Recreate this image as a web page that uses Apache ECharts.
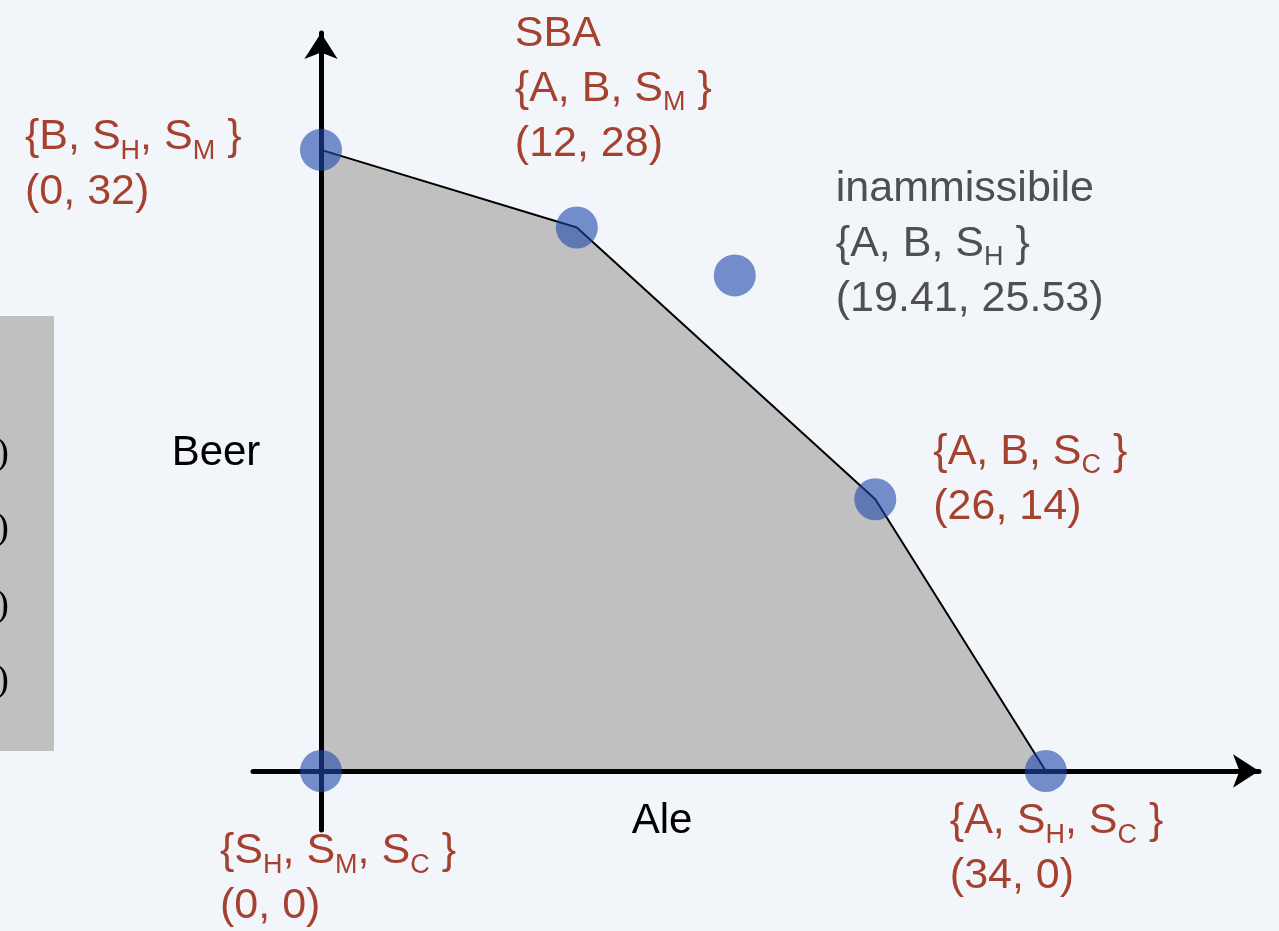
<!DOCTYPE html>
<html>
<head>
<meta charset="utf-8">
<script src="https://cdn.jsdelivr.net/npm/echarts@6/dist/echarts.min.js"></script>
<style>
html,body{margin:0;padding:0;background:#f2f5f9;}
#chart{width:1279px;height:931px;}
</style>
</head>
<body>
<div id="chart"></div>
<script>
// Vertices of the feasible region (Ale, Beer)
const aleValues  = [0, 0, 12, 26, 34];
const beerValues = [0, 32, 28, 14, 0];
// Basis labels for each vertex (rich text, s = subscript)
const vertexBases = [
  '{S{s|H}, S{s|M}, S{s|C} }',
  '{B, S{s|H}, S{s|M} }',
  '{A, B, S{s|M} }',
  '{A, B, S{s|C} }',
  '{A, S{s|H}, S{s|C} }'
];
const vertexTitles = ['', '', 'SBA', '', ''];
const vertexCoordText = ['(0, 0)', '(0, 32)', '(12, 28)', '(26, 14)', '(34, 0)'];
// Infeasible basic solution
const infeasibleAle = 19.41;
const infeasibleBeer = 25.53;
const infeasibleTitle = 'inammissibile';
const infeasibleBasis = '{A, B, S{s|H} }';
const infeasibleCoordText = '(19.41, 25.53)';
// Boundary of the region (vertex indices along the upper frontier)
const frontierOrder = [1, 2, 3, 4];
const axisNames = { x: 'Ale', y: 'Beer' };

const RED = '#a5412f';
const GRAY = '#4f4f4f';
const FONT = "'Liberation Sans', Arial, Helvetica, sans-serif";
const labelOffsets = [[-101, 53], [-296, -40], [-62, -221], [58, -75], [-96, 23]];
const infeasibleOffset = [101, -114];

function mkLabel(text, color, offset) {
  return {
    show: true,
    position: 'inside',
    align: 'left',
    verticalAlign: 'top',
    offset: offset,
    formatter: text,
    color: color,
    opacity: 1,
    fontSize: 43,
    lineHeight: 55,
    fontFamily: FONT,
    rich: {
      s: { fontSize: 27, lineHeight: 27, verticalAlign: 'bottom', color: color, fontFamily: FONT }
    }
  };
}

const vertexData = aleValues.map((a, i) => {
  const lines = [];
  if (vertexTitles[i]) lines.push(vertexTitles[i]);
  lines.push(vertexBases[i]);
  lines.push(vertexCoordText[i]);
  return { value: [a, beerValues[i]], label: mkLabel(lines.join('\n'), RED, labelOffsets[i]) };
});
vertexData.push({
  value: [infeasibleAle, infeasibleBeer],
  label: mkLabel([infeasibleTitle, infeasibleBasis, infeasibleCoordText].join('\n'), GRAY, infeasibleOffset)
});

const frontier = frontierOrder.map(i => [aleValues[i], beerValues[i]]);

const chart = echarts.init(document.getElementById('chart'), null, { renderer: 'canvas' });
chart.setOption({
  backgroundColor: '#f2f5f9',
  animation: false,
  grid: { left: 253, right: 20, top: 33, bottom: 101 },
  xAxis: {
    type: 'value', min: -3.19, max: 44.0, z: 3,
    axisLine: { show: true, onZero: true, symbol: ['none', 'arrow'], symbolSize: [25, 26],
      lineStyle: { color: '#000', width: 5 } },
    axisTick: { show: false }, axisLabel: { show: false }, splitLine: { show: false }
  },
  yAxis: {
    type: 'value', min: -3.04, max: 38.02, z: 3,
    axisLine: { show: true, onZero: true, symbol: ['none', 'arrow'], symbolSize: [25, 26],
      lineStyle: { color: '#000', width: 5 } },
    axisTick: { show: false }, axisLabel: { show: false }, splitLine: { show: false }
  },
  graphic: [
    { type: 'rect', left: 0, top: 316, shape: { width: 54, height: 435 }, style: { fill: '#c0c0c0' }, z: 0 },
    { type: 'text', x: 9, y: 454, style: { text: ')', fill: '#000', font: "38px 'Liberation Serif', 'Times New Roman', serif", textAlign: 'right', textVerticalAlign: 'middle' } },
    { type: 'text', x: 9, y: 529, style: { text: ')', fill: '#000', font: "38px 'Liberation Serif', 'Times New Roman', serif", textAlign: 'right', textVerticalAlign: 'middle' } },
    { type: 'text', x: 9, y: 606, style: { text: ')', fill: '#000', font: "38px 'Liberation Serif', 'Times New Roman', serif", textAlign: 'right', textVerticalAlign: 'middle' } },
    { type: 'text', x: 9, y: 681, style: { text: ')', fill: '#000', font: "38px 'Liberation Serif', 'Times New Roman', serif", textAlign: 'right', textVerticalAlign: 'middle' } },
    { type: 'text', x: 216, y: 453, style: { text: axisNames.y, fill: '#000', font: "42px 'Liberation Sans', Arial, sans-serif", textAlign: 'center', textVerticalAlign: 'middle' } },
    { type: 'text', x: 662, y: 821, style: { text: axisNames.x, fill: '#000', font: "42px 'Liberation Sans', Arial, sans-serif", textAlign: 'center', textVerticalAlign: 'middle' } }
  ],
  series: [
    {
      type: 'line',
      data: frontier,
      symbol: 'none',
      lineStyle: { color: '#000', width: 2 },
      areaStyle: { color: '#c0c0c0', opacity: 1 },
      z: 1
    },
    {
      type: 'scatter',
      data: vertexData,
      symbol: 'circle',
      symbolSize: 42,
      itemStyle: { color: 'rgba(30,70,170,0.6)', opacity: 1 },
      z: 5
    }
  ]
});
</script>
</body>
</html>
